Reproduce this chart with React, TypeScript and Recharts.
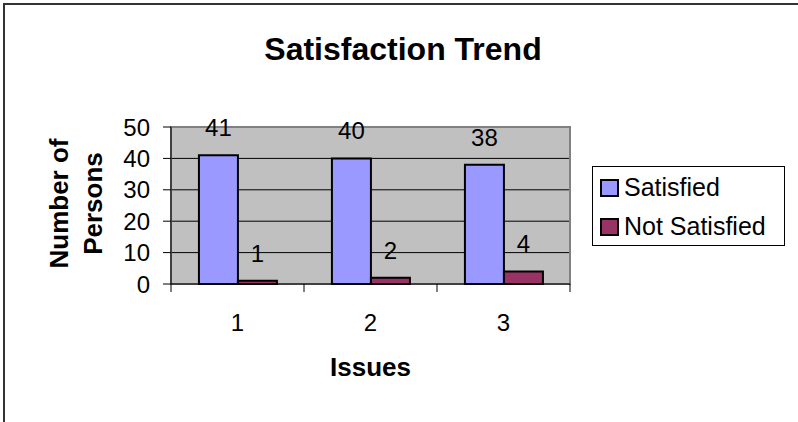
import React from "react";
import { Bar, BarChart, CartesianGrid, LabelList, Legend, ReferenceArea, XAxis, YAxis } from "recharts";

const FONT = '"Liberation Sans", Arial, sans-serif';

const ISSUES = ["1", "2", "3"];
const SATISFIED = [41, 40, 38];
const NOT_SATISFIED = [1, 2, 4];
const Y_TICKS = [0, 10, 20, 30, 40, 50];

const SERIES = [
  { key: "satisfied", name: "Satisfied", color: "#9999FF" },
  { key: "notSatisfied", name: "Not Satisfied", color: "#993366" },
];

const rows = ISSUES.map((issue, i) => ({
  issue,
  satisfied: SATISFIED[i],
  notSatisfied: NOT_SATISFIED[i],
}));

const TICK_GAP = 30;

// category label in the middle, tick marks on the band edges (like Excel)
function IssueTick(props: any) {
  const { x, y, payload, index, visibleTicksCount, width } = props;
  const half = payload?.offset || width / visibleTicksCount / 2;
  const axisY = y - TICK_GAP;
  return (
    <g>
      <line x1={x - half} x2={x - half} y1={axisY} y2={axisY + 8} stroke="#000" />
      {index === visibleTicksCount - 1 && (
        <line x1={x + half} x2={x + half} y1={axisY} y2={axisY + 8} stroke="#000" />
      )}
      <text x={x} y={y} dy="0.71em" textAnchor="middle" fontSize={24} fill="#000" fontFamily={FONT}>
        {payload.value}
      </text>
    </g>
  );
}

function YLabel(props: any) {
  const { viewBox } = props;
  const cy = viewBox.y + viewBox.height / 2 - 2;
  const lines = [
    { text: "Number of", x: 68 },
    { text: "Persons", x: 102 },
  ];
  return (
    <g>
      {lines.map((l) => (
        <text
          key={l.text}
          x={l.x}
          y={cy}
          transform={`rotate(-90, ${l.x}, ${cy})`}
          textAnchor="middle"
          fontSize={26}
          fontWeight="bold"
          fill="#000"
          fontFamily={FONT}
        >
          {l.text}
        </text>
      ))}
    </g>
  );
}

function LegendBox() {
  return (
    <div
      style={{
        position: "relative",
        width: 193,
        height: 80,
        border: "1px solid #000",
        background: "#fff",
        boxSizing: "border-box",
        fontFamily: FONT,
      }}
    >
      {SERIES.map((s, i) => (
        <div
          key={s.key}
          style={{ position: "absolute", left: 7, top: 7 + i * 39, height: 26, lineHeight: "26px", fontSize: 25, whiteSpace: "nowrap" }}
        >
          <span
            style={{
              display: "inline-block",
              width: 15,
              height: 14,
              background: s.color,
              border: "2px solid #000",
              verticalAlign: "top",
              marginTop: 5,
              marginRight: 5,
            }}
          />
          <span style={{ color: "#000" }}>{s.name}</span>
        </div>
      ))}
    </div>
  );
}

export default function App() {
  return (
    <div style={{ position: "fixed", left: 0, top: 0, width: 798, height: 422, background: "#fff", overflow: "hidden" }}>
      <div
        style={{
          position: "absolute",
          left: 0,
          width: 806,
          top: 33,
          textAlign: "center",
          fontFamily: FONT,
          fontWeight: "bold",
          fontSize: 32,
          lineHeight: "32px",
          color: "#000",
        }}
      >
        Satisfaction Trend
      </div>
      <div style={{ position: "absolute", left: 0, top: 0 }}>
        <BarChart
          width={798}
          height={422}
          data={rows}
          margin={{ top: 127, right: 228, bottom: 38, left: 0 }}
          barCategoryGap="21%"
          barGap={0}
        >
          <CartesianGrid vertical={false} stroke="#000" fill="#C0C0C0" fillOpacity={1} />
          <ReferenceArea y1={0} y2={50} fill="none" stroke="#808080" strokeWidth={2} ifOverflow="visible" />
          <XAxis
            dataKey="issue"
            height={100}
            tickLine={false}
            tickSize={0}
            tickMargin={TICK_GAP}
            axisLine={{ stroke: "#000" }}
            tick={<IssueTick />}
            interval={0}
            label={{
              value: "Issues",
              position: "insideBottom",
              offset: 8,
              fontSize: 26,
              fontWeight: "bold",
              fill: "#000",
              fontFamily: FONT,
            }}
          />
          <YAxis
            width={171}
            domain={[0, 50]}
            ticks={Y_TICKS}
            interval={0}
            tickSize={8}
            tickMargin={13}
            axisLine={{ stroke: "#000" }}
            tickLine={{ stroke: "#000" }}
            tick={{ fontSize: 24, fill: "#000", fontFamily: FONT }}
            label={<YLabel />}
          />
          <Legend
            layout="vertical"
            align="center"
            verticalAlign="middle"
            content={<LegendBox />}
            wrapperStyle={{ position: "absolute", left: 592, top: 166, width: 193, height: 80 }}
          />
          {SERIES.map((s) => (
            <Bar key={s.key} dataKey={s.key} name={s.name} fill={s.color} stroke="#000" strokeWidth={2} isAnimationActive={false}>
              <LabelList dataKey={s.key} position="top" offset={19} fontSize={24} fill="#000" fontFamily={FONT} />
            </Bar>
          ))}
        </BarChart>
      </div>
      <div
        style={{
          position: "absolute",
          left: 3,
          top: 3,
          width: 820,
          height: 440,
          borderLeft: "2px solid #333",
          borderTop: "2px solid #333",
          pointerEvents: "none",
          zIndex: 5,
        }}
      />
    </div>
  );
}
